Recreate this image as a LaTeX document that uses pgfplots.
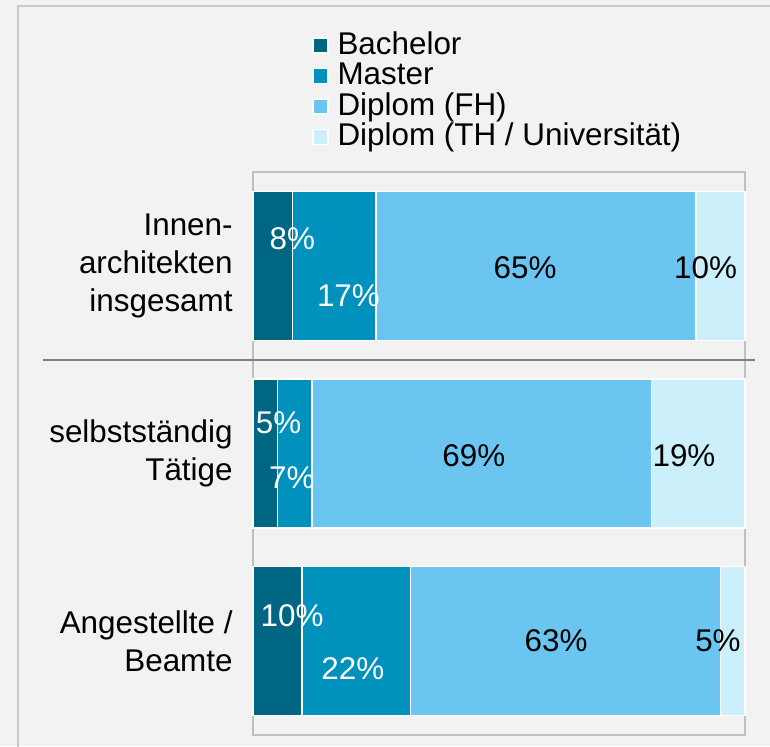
\documentclass[border=0pt]{standalone}
\usepackage{fontspec}
\setmainfont{Liberation Sans}
\usepackage{pgfplots}
\pgfplotsset{compat=1.18}
\definecolor{bach}{RGB}{0,102,130}
\definecolor{mast}{RGB}{0,145,189}
\definecolor{dfh}{RGB}{106,197,240}
\definecolor{dth}{RGB}{204,240,251}
\definecolor{bgc}{RGB}{242,242,242}
\definecolor{frm}{RGB}{200,200,200}
\definecolor{boxc}{RGB}{191,191,191}
\definecolor{sepc}{RGB}{128,128,128}
\newcommand{\lbl}{\fontsize{15.7}{19}\selectfont}
\tikzset{lab/.style={font=\lbl, inner sep=0pt, text height=, text depth=}}

\begin{document}
\begin{tikzpicture}
\useasboundingbox (0,0) rectangle (385pt,-373pt);
\clip (0,0) rectangle (385pt,-373pt);
\fill[bgc] (0,0) rectangle (385pt,-373pt);
\draw[frm, line width=1pt] (9pt,-400pt) -- (9pt,-3pt) -- (400pt,-3pt);
% grey frame of the plot area, bars are drawn over it
\draw[boxc, line width=0.75pt] (126.5pt,-86pt) rectangle (372.5pt,-367.5pt);
\begin{axis}[
    at={(126.5pt,-367.5pt)}, anchor=south west,
    scale only axis, width=246pt, height=281.5pt,
    xbar stacked, bar width=74.5pt,
    xmin=0, xmax=100, ymin=-0.5, ymax=2.5,
    clip=false,
    axis line style={draw=none}, major tick length=0pt,
    xtick=\empty,
    ytick={0,1,2},
    yticklabels={{Angestellte /\\Beamte},{selbstständig\\Tätige},{Innen-\\architekten\\insgesamt}},
    yticklabel style={align=right, font=\lbl, inner sep=0pt, xshift=-10pt},
    legend style={at={(0.12,1.252)}, anchor=north west, draw=none, fill=none,
        font=\lbl, inner sep=0pt, outer sep=0pt, row sep=0pt, column sep=4.5pt,
        nodes={inner sep=0pt, text height=12pt, text depth=3.25pt}},
    legend cell align=left,
    legend image code/.code={\fill[#1] (0pt,-3.75pt) rectangle (7.5pt,3.75pt);},
]
\addplot[fill=bach, draw=white, line width=0.75pt] coordinates {(8,2) (5,1) (10,0)};
\addplot[fill=mast, draw=white, line width=0.75pt] coordinates {(17,2) (7,1) (22,0)};
\addplot[fill=dfh, draw=white, line width=0.75pt] coordinates {(65,2) (69,1) (63,0)};
\addplot[fill=dth, draw=white, line width=0.75pt] coordinates {(10,2) (19,1) (5,0)};
\legend{Bachelor, Master, Diplom (FH), Diplom (TH / Universität)}

% label anchors, the text itself is set after the axis
\coordinate (a1) at (axis cs:8.0,2.146);
\coordinate (a2) at (axis cs:19.4,1.841);
\coordinate (a3) at (axis cs:55.3,1.99);
\coordinate (a4) at (axis cs:92.0,1.99);
\coordinate (b1) at (axis cs:5.2,1.164);
\coordinate (b2) at (axis cs:7.9,0.87);
\coordinate (b3) at (axis cs:44.9,0.99);
\coordinate (b4) at (axis cs:87.6,0.99);
\coordinate (c1) at (axis cs:7.96,0.137);
\coordinate (c2) at (axis cs:20.3,-0.145);
\coordinate (c3) at (axis cs:61.6,0);
\coordinate (c4) at (axis cs:94.5,0);
\end{axis}
\draw[sepc, line width=1pt] (21.5pt,-180pt) -- (377.5pt,-180pt);
\node[lab, white] at (a1) {8\%};
\node[lab, white] at (a2) {17\%};
\node[lab] at (a3) {65\%};
\node[lab] at (a4) {10\%};
\node[lab, white] at (b1) {5\%};
\node[lab, white] at (b2) {7\%};
\node[lab] at (b3) {69\%};
\node[lab] at (b4) {19\%};
\node[lab, white] at (c1) {10\%};
\node[lab, white] at (c2) {22\%};
\node[lab] at (c3) {63\%};
\node[lab] at (c4) {5\%};
\end{tikzpicture}
\end{document}
